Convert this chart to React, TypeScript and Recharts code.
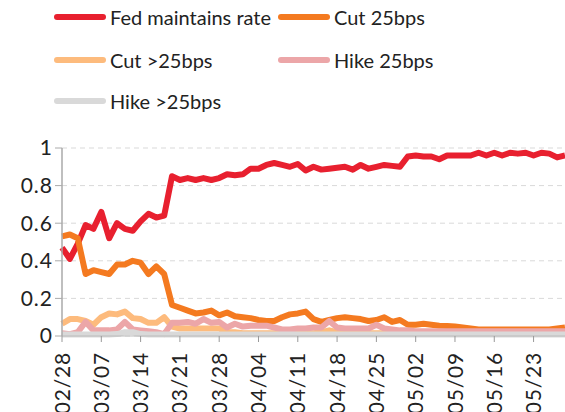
import React from 'react';
import {
  LineChart,
  Line,
  XAxis,
  YAxis,
  CartesianGrid,
} from 'recharts';

const dates = [
  '02/28',
  '03/03', '03/04', '03/05', '03/06', '03/07',
  '03/10', '03/11', '03/12', '03/13', '03/14',
  '03/17', '03/18', '03/19', '03/20', '03/21',
  '03/24', '03/25', '03/26', '03/27', '03/28',
  '03/31', '04/01', '04/02', '04/03', '04/04',
  '04/07', '04/08', '04/09', '04/10', '04/11',
  '04/14', '04/15', '04/16', '04/17', '04/18',
  '04/21', '04/22', '04/23', '04/24', '04/25',
  '04/28', '04/29', '04/30', '05/01', '05/02',
  '05/05', '05/06', '05/07', '05/08', '05/09',
  '05/12', '05/13', '05/14', '05/15', '05/16',
  '05/19', '05/20', '05/21', '05/22', '05/23',
  '05/26', '05/27', '05/28', '05/29',
];

const maintain = [
  0.47,
  0.41, 0.49, 0.59, 0.57, 0.66,
  0.52, 0.6, 0.57, 0.56, 0.61,
  0.65, 0.63, 0.64, 0.85, 0.83,
  0.84, 0.83, 0.84, 0.83, 0.84,
  0.86, 0.855, 0.86, 0.89, 0.89,
  0.91, 0.92, 0.91, 0.9, 0.915,
  0.88, 0.9, 0.885, 0.89, 0.895,
  0.9, 0.885, 0.91, 0.89, 0.9,
  0.91, 0.905, 0.9, 0.955, 0.96,
  0.955, 0.955, 0.94, 0.96, 0.96,
  0.96, 0.96, 0.975, 0.96, 0.975,
  0.96, 0.975, 0.97, 0.975, 0.96,
  0.975, 0.97, 0.95, 0.96,
];

const cut25 = [
  0.53,
  0.54, 0.52, 0.33, 0.35, 0.34,
  0.33, 0.38, 0.38, 0.4, 0.39,
  0.33, 0.37, 0.33, 0.165, 0.15,
  0.135, 0.12, 0.125, 0.135, 0.11,
  0.125, 0.105, 0.1, 0.095, 0.085,
  0.08, 0.08, 0.1, 0.115, 0.12,
  0.13, 0.09, 0.075, 0.085, 0.095,
  0.1, 0.095, 0.09, 0.08, 0.085,
  0.1, 0.075, 0.085, 0.06, 0.06,
  0.065, 0.06, 0.055, 0.053, 0.05,
  0.045, 0.04, 0.035, 0.035, 0.035,
  0.035, 0.035, 0.035, 0.035, 0.035,
  0.035, 0.035, 0.04, 0.045,
];

const cutMore = [
  0.065,
  0.09, 0.09, 0.08, 0.06, 0.1,
  0.12, 0.115, 0.13, 0.095, 0.09,
  0.07, 0.07, 0.1, 0.05, 0.04,
  0.04, 0.04, 0.04, 0.04, 0.04,
  0.02, 0.02, 0.015, 0.015, 0.015,
  0.015, 0.015, 0.015, 0.015, 0.015,
  0.015, 0.015, 0.02, 0.03, 0.02,
  0.015, 0.015, 0.015, 0.015, 0.015,
  0.015, 0.015, 0.01, 0.01, 0.01,
  0.01, 0.01, 0.01, 0.01, 0.01,
  0.01, 0.01, 0.01, 0.01, 0.01,
  0.01, 0.01, 0.01, 0.01, 0.01,
  0.01, 0.01, 0.01, 0.01,
];

const hike25 = [
  0.015,
  0.01, 0.02, 0.075, 0.03, 0.03,
  0.03, 0.035, 0.075, 0.035, 0.03,
  0.025, 0.02, 0.01, 0.07, 0.07,
  0.075, 0.065, 0.09, 0.07, 0.075,
  0.045, 0.065, 0.05, 0.055, 0.055,
  0.055, 0.045, 0.035, 0.035, 0.04,
  0.04, 0.045, 0.045, 0.08, 0.045,
  0.04, 0.04, 0.04, 0.04, 0.06,
  0.04, 0.035, 0.03, 0.03, 0.025,
  0.025, 0.025, 0.025, 0.025, 0.025,
  0.025, 0.025, 0.025, 0.025, 0.025,
  0.025, 0.025, 0.025, 0.025, 0.025,
  0.025, 0.025, 0.025, 0.025,
];

const hikeMore = [
  0.008,
  0.008, 0.008, 0.008, 0.008, 0.008,
  0.008, 0.01, 0.02, 0.02, 0.01,
  0.008, 0.008, 0.008, 0.008, 0.008,
  0.008, 0.008, 0.008, 0.008, 0.008,
  0.008, 0.008, 0.008, 0.008, 0.008,
  0.008, 0.008, 0.008, 0.008, 0.008,
  0.008, 0.008, 0.008, 0.008, 0.008,
  0.008, 0.008, 0.008, 0.008, 0.008,
  0.008, 0.008, 0.008, 0.008, 0.008,
  0.008, 0.008, 0.008, 0.008, 0.008,
  0.008, 0.008, 0.008, 0.008, 0.008,
  0.008, 0.008, 0.008, 0.008, 0.008,
  0.008, 0.008, 0.008, 0.008,
];

const yTicks = [0, 0.2, 0.4, 0.6, 0.8, 1];

const series = [
  { key: 'maintain', name: 'Fed maintains rate', color: '#e8202f' },
  { key: 'cut25', name: 'Cut 25bps', color: '#f47a20' },
  { key: 'cutMore', name: 'Cut >25bps', color: '#fdbb7d' },
  { key: 'hike25', name: 'Hike 25bps', color: '#eca6a8' },
  { key: 'hikeMore', name: 'Hike >25bps', color: '#d9d9d9' },
];

const data = dates.map((date, i) => ({
  date,
  maintain: maintain[i],
  cut25: cut25[i],
  cutMore: cutMore[i],
  hike25: hike25[i],
  hikeMore: hikeMore[i],
}));

const FONT = 'Lato, "Noto Sans", sans-serif';

function DateTick({ x, y, payload }: any) {
  return (
    <g transform={`translate(${x},${y + 8})`}>
      <text
        transform="rotate(-90)"
        textAnchor="end"
        dy="0.36em"
        fontSize={21}
        letterSpacing={0.8}
        fill="#222"
        fontFamily={FONT}
      >
        {payload.value}
      </text>
    </g>
  );
}

function ChartLegend() {
  const cols = [54, 278];
  const rows = [17, 60, 101];
  return (
    <div style={{ position: 'absolute', left: 0, top: 0, width: 565, height: 120 }}>
      {series.map((s, i) => (
        <div
          key={s.key}
          style={{
            position: 'absolute',
            left: cols[i % 2],
            top: rows[Math.floor(i / 2)] - 12,
            height: 24,
            display: 'flex',
            alignItems: 'center',
            fontFamily: FONT,
            fontSize: 20,
            color: '#222',
            whiteSpace: 'nowrap',
          }}
        >
          <span
            style={{
              display: 'inline-block',
              width: 52,
              height: 6,
              borderRadius: 3,
              background: s.color,
              marginRight: 4,
            }}
          />
          {s.name}
        </div>
      ))}
    </div>
  );
}

export default function App() {
  return (
    <div style={{ position: 'absolute', left: 0, top: 0, width: 565, height: 412, background: '#fff', overflow: 'hidden' }}>
      <ChartLegend />
      <LineChart
        width={565}
        height={412}
        data={data}
        margin={{ top: 148, right: 0, bottom: 0, left: 0 }}
      >
        <CartesianGrid vertical={false} stroke="#d9d9d9" strokeDasharray="5 4" />
        <XAxis
          dataKey="date"
          interval={4}
          height={76}
          tick={<DateTick />}
          tickSize={6}
          tickLine={{ stroke: '#999' }}
          axisLine={{ stroke: '#bbb' }}
        />
        <YAxis
          width={62}
          domain={[0, 1]}
          ticks={yTicks}
          tickFormatter={(v: number) => String(v)}
          tickSize={7}
          tickLine={{ stroke: '#aaa' }}
          axisLine={{ stroke: '#aaa', strokeWidth: 1.5 }}
          tick={{ fontSize: 21, fill: '#222', fontFamily: FONT, letterSpacing: 1 }}
        />
        {series.map((s) => (
          <Line
            key={s.key}
            dataKey={s.key}
            name={s.name}
            type="linear"
            stroke={s.color}
            strokeWidth={6}
            strokeLinejoin="round"
            dot={false}
            activeDot={false}
            isAnimationActive={false}
          />
        ))}
      </LineChart>
    </div>
  );
}
